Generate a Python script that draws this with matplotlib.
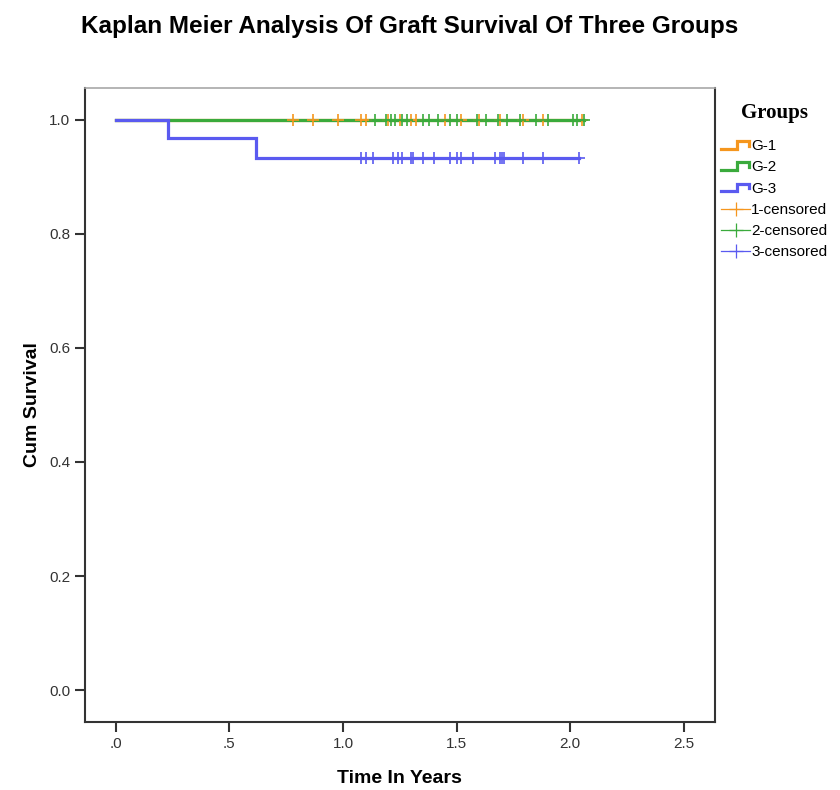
import matplotlib
matplotlib.use("Agg")
import matplotlib.pyplot as plt
from matplotlib.lines import Line2D
from matplotlib.legend_handler import HandlerBase

# Kaplan-Meier curves
g1_times = [0.0, 2.05]
g1_surv = [1.0, 1.0]
g2_times = [0.0, 2.06]
g2_surv = [1.0, 1.0]
g3_times = [0.0, 0.229, 0.617, 2.04]
g3_surv = [1.0, 0.967, 0.933, 0.933]

# censored observations (time in years)
g1_cens = [0.78, 0.87, 0.98, 1.08, 1.10, 1.20, 1.25, 1.30, 1.32, 1.45,
           1.52, 1.60, 1.69, 1.79, 1.88, 2.05]
g2_cens = [1.14, 1.19, 1.21, 1.23, 1.26, 1.28, 1.35, 1.38, 1.42, 1.47,
           1.50, 1.59, 1.63, 1.68, 1.72, 1.78, 1.85, 1.90, 2.01, 2.03, 2.06]
g3_cens = [1.08, 1.10, 1.13, 1.22, 1.24, 1.26, 1.30, 1.31, 1.35, 1.40,
           1.47, 1.50, 1.52, 1.57, 1.67, 1.69, 1.70, 1.71, 1.79, 1.88, 2.04]

groups = ["G-1", "G-2", "G-3"]
colors = ["#f5961e", "#3aaa3c", "#5a5af0"]
x_ticks = [0.0, 0.5, 1.0, 1.5, 2.0, 2.5]
x_labels = [".0", ".5", "1.0", "1.5", "2.0", "2.5"]
y_ticks = [0.0, 0.2, 0.4, 0.6, 0.8, 1.0]
y_labels = ["0.0", "0.2", "0.4", "0.6", "0.8", "1.0"]

plt.rcParams['font.family'] = ['Liberation Sans', 'DejaVu Sans']

fig = plt.figure(figsize=(8.4, 7.9), dpi=100)
ax = fig.add_axes([0.101, 0.086, 0.75, 0.803])

curves = [(g1_times, g1_surv), (g2_times, g2_surv), (g3_times, g3_surv)]
for (t, s), c in zip(curves, colors):
    ax.step(t, s, where='post', color=c, lw=2.3, solid_joinstyle='miter')

cens = [(g1_cens, g1_surv[-1]), (g2_cens, g2_surv[-1]), (g3_cens, g3_surv[-1])]
for (t, lvl), c in zip(cens, colors):
    ax.plot(t, [lvl] * len(t), ls='none', marker='+', ms=9, mew=1.2, color=c)

ax.set_xlim(-0.136, 2.636)
ax.set_ylim(-0.056, 1.056)
ax.set_xticks(x_ticks)
ax.set_xticklabels(x_labels)
ax.set_yticks(y_ticks)
ax.set_yticklabels(y_labels)
ax.tick_params(axis='both', direction='out', length=7, width=1.5,
               color='#333333', labelcolor='#333333', labelsize=11)
for side in ['left', 'bottom', 'right']:
    ax.spines[side].set_color('#333333')
    ax.spines[side].set_linewidth(1.5)
ax.spines['top'].set_color('#a8a8a8')
ax.spines['top'].set_linewidth(1.2)

ax.set_xlabel("Time In Years", fontsize=14, fontweight='bold', labelpad=14)
ax.set_ylabel("Cum Survival", fontsize=14, fontweight='bold', labelpad=6)

fig.text(0.488, 0.966, "Kaplan Meier Analysis Of Graft Survival Of Three Groups",
         ha='center', va='center', fontsize=17.5, fontweight='bold')


class StepHandler(HandlerBase):
    def create_artists(self, legend, orig_handle, xdescent, ydescent,
                       width, height, fontsize, trans):
        xs = [-xdescent + width * f for f in (0.0, 0.55, 0.55, 0.95, 0.95)]
        ys = [-ydescent + height * f for f in (0.15, 0.15, 0.85, 0.85, 0.45)]
        ln = Line2D(xs, ys, color=orig_handle.get_color(), lw=2.3,
                    solid_joinstyle='miter', transform=trans)
        return [ln]


step_handles = [Line2D([], [], color=c) for c in colors]
cens_handles = [Line2D([], [], color=c, lw=0.9, marker='+', ms=10, mew=0.9)
                for c in colors]
labels = groups + ["1-censored", "2-censored", "3-censored"]
handler_map = {h: StepHandler() for h in step_handles}
leg = fig.legend(step_handles + cens_handles, labels, handler_map=handler_map,
                 loc='upper left', bbox_to_anchor=(0.857, 0.872), frameon=False,
                 title="Groups", fontsize=11, handlelength=1.9,
                 handletextpad=0.05, labelspacing=0.47, borderaxespad=0,
                 borderpad=0.1)
leg.get_title().set_fontfamily('Liberation Serif')
leg.get_title().set_fontweight('bold')
leg.get_title().set_fontsize(15)
leg._legend_box.sep = 12

fig.savefig("out.png", dpi=100)
